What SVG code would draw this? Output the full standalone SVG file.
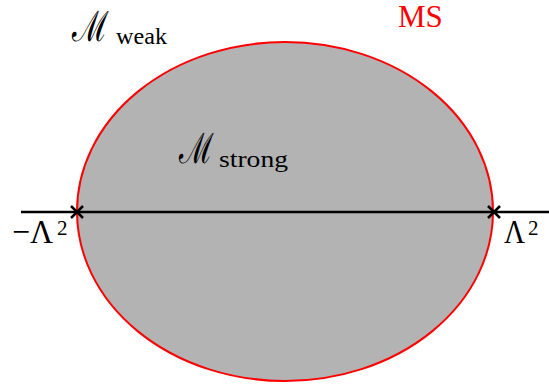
<svg xmlns="http://www.w3.org/2000/svg" width="549" height="385" viewBox="0 0 549 385">
<style>
.t{font-family:"Liberation Serif","DejaVu Serif",serif;fill:#000}
.cal{font-family:"DejaVu Serif","Liberation Serif",serif;fill:#000}
.x{stroke:#000;stroke-width:2.5;fill:none}
</style>
<rect width="549" height="385" fill="#fff"/>
<g id="region">
<ellipse cx="285" cy="211.5" rx="208" ry="169.5" fill="#b3b3b3" stroke="#ff0000" stroke-width="2"/>
</g>
<g id="connectors">
<line x1="21" y1="212" x2="549" y2="212" stroke="#000" stroke-width="2.5"/>
</g>
<g id="markers">
<path class="x" d="M71,206 L83,218 M83,206 L71,218"/>
<path class="x" d="M488,206 L500,218 M500,206 L488,218"/>
</g>
<g id="labels">
<g id="weak"><text class="cal" x="72" y="41" font-size="42" textLength="37" lengthAdjust="spacingAndGlyphs">ℳ</text><text class="t" x="116" y="44" font-size="23" textLength="51" lengthAdjust="spacingAndGlyphs">weak</text></g>
<text id="ms" class="t" x="398" y="27" font-size="31" style="fill:#ff0000">MS</text>
<g id="strong"><text class="cal" x="179" y="163" font-size="42" textLength="35" lengthAdjust="spacingAndGlyphs">ℳ</text><text class="t" x="219" y="167" font-size="23" textLength="69" lengthAdjust="spacingAndGlyphs">strong</text></g>
<g id="neg"><text class="t" x="12" y="243" font-size="34" textLength="41" lengthAdjust="spacingAndGlyphs">−Λ</text><text class="t" x="57" y="235" font-size="21">2</text></g>
<g id="pos"><text class="t" x="504" y="243" font-size="34" textLength="21" lengthAdjust="spacingAndGlyphs">Λ</text><text class="t" x="528" y="235" font-size="21">2</text></g>
</g>
</svg>
